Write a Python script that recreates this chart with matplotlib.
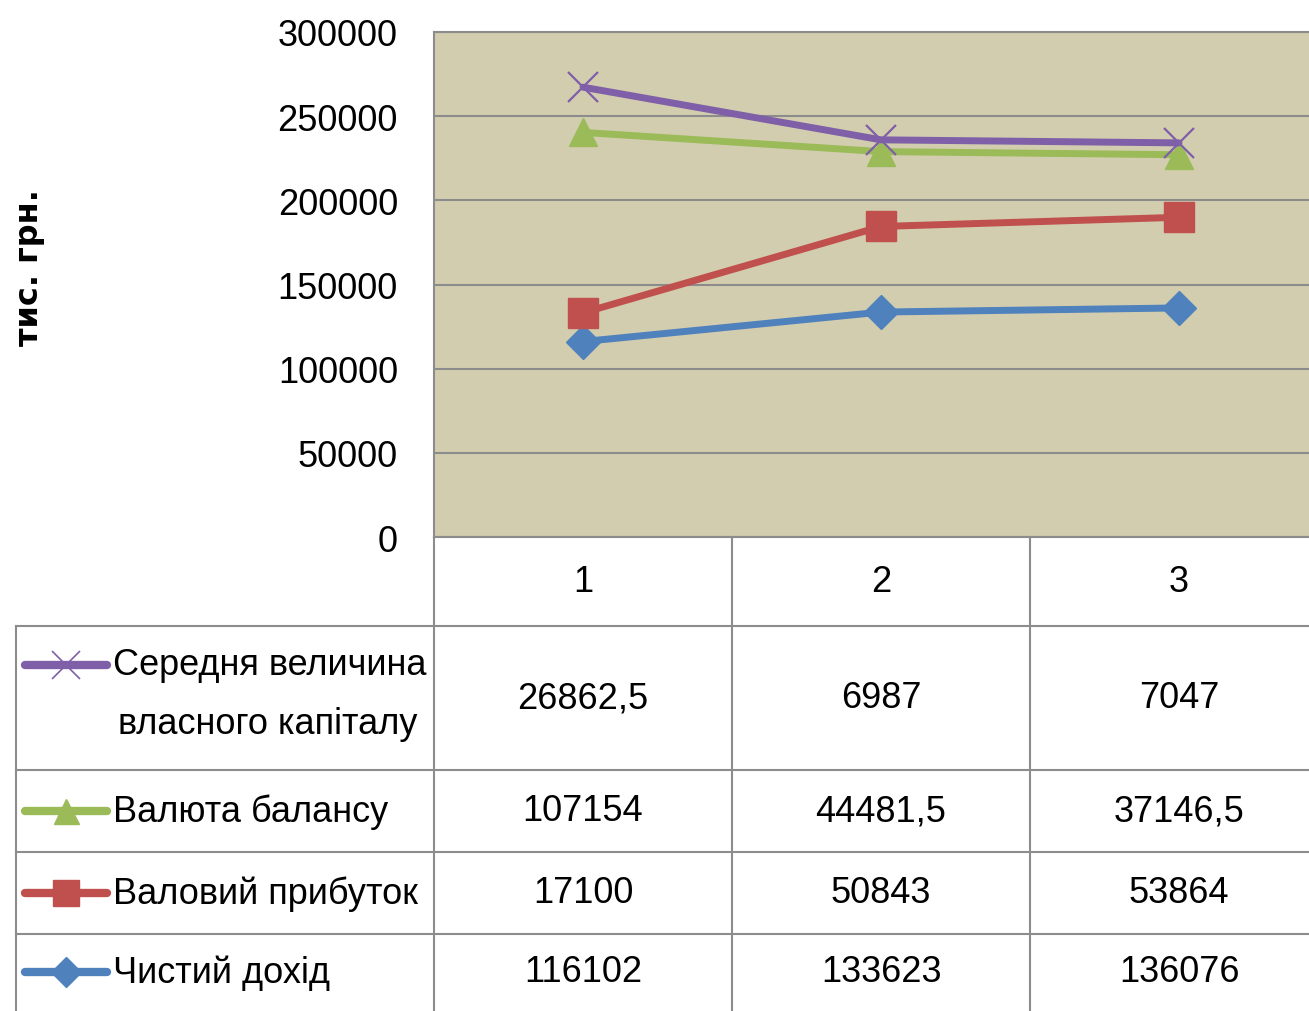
import matplotlib
matplotlib.use('Agg')
import matplotlib.pyplot as plt
import numpy as np

# data (table values, plotted stacked like the Excel chart)
periods = ['1', '2', '3']
series_names = ['Середня величина\nвласного капіталу', 'Валюта балансу',
                'Валовий прибуток', 'Чистий дохід']
net_income = [116102, 133623, 136076]
gross_profit = [17100, 50843, 53864]
balance = [107154, 44481.5, 37146.5]
equity = [26862.5, 6987, 7047]
table_text = [['26862,5', '6987', '7047'],
              ['107154', '44481,5', '37146,5'],
              ['17100', '50843', '53864'],
              ['116102', '133623', '136076']]
yticks = [0, 50000, 100000, 150000, 200000, 250000, 300000]

plt.rcParams['font.family'] = ['Liberation Sans', 'DejaVu Sans']
fs = 26

colors = ['#7F5FA8', '#9BBB59', '#C0504D', '#4F81BD']
markers = ['x', '^', 's', 'D']
msizes = [22, 20, 21, 17]
grid_c = '#8C8C8C'

stack1 = np.array(net_income)
stack2 = stack1 + np.array(gross_profit)
stack3 = stack2 + np.array(balance)
stack4 = stack3 + np.array(equity)
stacks = [stack4, stack3, stack2, stack1]

W, H = 1309, 1012
fig = plt.figure(figsize=(W / 100, H / 100), dpi=100)

x0, x_end, y_top, y_bot = 434, 1328, 33, 538
ax = fig.add_axes([x0 / W, 1 - y_bot / H, (x_end - x0) / W, (y_bot - y_top) / H])
ax.set_facecolor('#D3CDAF')
ax.set_xlim(0, 3)
ax.set_ylim(0, 300000)
ax.set_yticks(yticks)
ax.set_yticklabels([str(v) for v in yticks], fontsize=fs)
ax.set_xticks([])
ax.tick_params(axis='y', length=0, pad=26)
ax.grid(axis='y', color=grid_c, linewidth=1.5)
ax.set_axisbelow(True)
for s in ['left', 'top']:
    ax.spines[s].set_color(grid_c)
    ax.spines[s].set_linewidth(1.5)
ax.spines['right'].set_visible(False)
ax.spines['bottom'].set_visible(False)

xs = np.arange(3) + 0.5
for i in [3, 2, 1, 0]:
    mk = dict(marker=markers[i], markersize=msizes[i], color=colors[i])
    if markers[i] == 'x':
        mk['markeredgewidth'] = 1.6
    ax.plot(xs, stacks[i], linewidth=5, solid_capstyle='round', **mk)

fig.text(30 / W, 1 - 268 / H, 'тис. грн.', rotation=90, fontsize=23,
         fontweight='bold', family='DejaVu Sans', ha='center', va='center')

# data table
tx = fig.add_axes([0, 0, (x_end) / W, (H - y_top) / H])
tx.set_xlim(-x0 / 298, (x_end - x0) / 298)
tx.set_ylim(H, y_top)
tx.axis('off')
left = (16 - x0) / 298
rows = [y_bot, 627, 771, 853, 935, H]
lk = dict(color=grid_c, linewidth=1.5)
for y in rows[1:-1]:
    tx.plot([left, 3], [y, y], **lk)
tx.plot([0, 3], [y_bot, y_bot], **lk)
tx.plot([left, left], [627, H], **lk)
for x in [0, 1, 2]:
    tx.plot([x, x], [y_bot, H], **lk)

for j, p in enumerate(periods):
    tx.text(j + 0.5, (y_bot + 627) / 2, p, fontsize=fs, ha='center', va='center')

row_mid = [(rows[k + 1] + rows[k + 2]) / 2 for k in range(4)]
row_mid[3] = 973
for i in range(4):
    ym = row_mid[i]
    for j in range(3):
        tx.text(j + 0.5, ym, table_text[i][j], fontsize=fs, ha='center', va='center')
    ly = 666 if i == 0 else ym
    lx0, lx1 = (25 - x0) / 298, (107 - x0) / 298
    mk = dict(marker=markers[i], markersize=msizes[i] - 2, color=colors[i],
              markevery=[1])
    if markers[i] == 'x':
        mk['markeredgewidth'] = 1.2
    tx.plot([lx0, (lx0 + lx1) / 2, lx1], [ly, ly, ly], linewidth=6,
            solid_capstyle='round', **mk)
    if i == 0:
        tx.text((113 - x0) / 298, 666, 'Середня величина', fontsize=fs,
                ha='left', va='center')
        tx.text((118 - x0) / 298, 725, 'власного капіталу', fontsize=fs,
                ha='left', va='center')
    else:
        tx.text((113 - x0) / 298, ym, series_names[i], fontsize=fs,
                ha='left', va='center')

fig.savefig('out.png', dpi=100)
